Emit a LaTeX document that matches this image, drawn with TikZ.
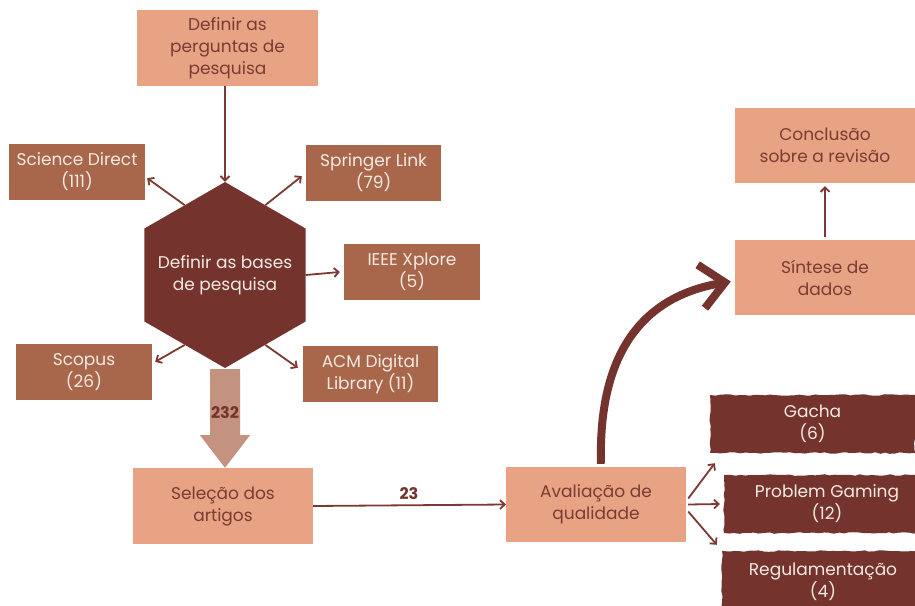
\documentclass[tikz,border=0pt]{standalone}
\usepackage{fontspec}
\setmainfont{Poppins}
\usetikzlibrary{arrows.meta,shapes.geometric,decorations.pathmorphing,calc}
\definecolor{salmon}{HTML}{E8A385}
\definecolor{midbrown}{HTML}{A8674B}
\definecolor{darkbrown}{HTML}{74342D}
\definecolor{txtdark}{HTML}{7A3B33}
\definecolor{txtlight}{HTML}{F5EAE3}
\definecolor{fatarrow}{HTML}{C4937F}
\definecolor{linecol}{HTML}{7B3A31}
\begin{document}
\begin{tikzpicture}[x=1pt,y=-1pt,
  fsz/.style={font=\fontsize{17}{22}\selectfont},
  lbox/.style={fill=salmon, text=txtdark, align=center, inner sep=0pt, fsz, minimum width=180pt, minimum height=76pt},
  mbox/.style={fill=midbrown, text=txtlight, align=center, inner sep=0pt, fsz, minimum width=136pt, minimum height=56pt},
  rbox/.style={fill=darkbrown, text=txtlight, align=center, inner sep=0pt, fsz, decorate, decoration={random steps, segment length=5pt, amplitude=0.8pt}},
  hexa/.style={regular polygon, regular polygon sides=6, shape border rotate=30, fill=darkbrown, inner sep=0pt, minimum size=186pt},
  hextext/.style={text=txtlight, align=center, inner sep=0pt, fsz},
  arr/.style={draw=linecol, line width=1.8pt, -{Straight Barb[length=4.5pt,width=9pt]}},
  bigarr/.style={draw=darkbrown, line width=8pt, -{Straight Barb[length=24pt,width=44pt]}},
  lbl/.style={text=darkbrown, font=\fontsize{16}{18}\selectfont\bfseries, inner sep=0pt}
]
\useasboundingbox[fill=white] (0,0) rectangle (915,605);
\pgfmathsetseed{7}

\node[lbox, minimum width=181pt] (top) at (227.5,48) {Definir as\\perguntas de\\pesquisa};
\node[hexa] (hex) at (225,275) {};
\node[hextext] (hext) at (hex.center) {Definir as bases\\de pesquisa};

\node[mbox] (sd) at (77,172) {Science Direct\\(111)};
\node[mbox, minimum width=135pt] (sl) at (373.5,173) {Springer Link\\(79)};
\node[mbox] (ieee) at (412,272) {IEEE Xplore\\(5)};
\node[mbox] (scopus) at (84,372) {Scopus\\(26)};
\node[mbox, minimum width=135pt] (acm) at (370.5,374) {ACM Digital\\Library (11)};

\node[lbox] (sel) at (223,506) {Seleção dos\\artigos};
\node[lbox, minimum height=75pt] (av) at (596,504.5) {Avaliação de\\qualidade};
\node[lbox, minimum height=75pt] (sint) at (825,277.5) {Síntese de\\dados};
\node[lbox, minimum height=75pt] (conc) at (825,145.5) {Conclusão\\sobre a revisão};

\node[rbox, minimum width=205pt, minimum height=58pt] (gacha) at (812.5,424) {Gacha\\(6)};
\node[rbox, minimum width=206pt, minimum height=58pt] (pg) at (827,504) {Problem Gaming\\(12)};
\node[rbox, minimum width=202pt, minimum height=62pt] (reg) at (823,582) {Regulamentação\\(4)};

% connectors
\draw[arr] (top.south -| hex.center) -- (hex.90);
\draw[arr] (hex.120) -- ($(sd.south east)+(2,-22)$);
\draw[arr] (hex.60) -- ($(sl.south west)+(-4,-25)$);
\draw[arr] (hex.0) -- ($(ieee.west)+(-4,0)$);
\draw[arr] (hex.240) -- ($(scopus.north east)+(3,18)$);
\draw[arr] (hex.300) -- ($(acm.north west)+(-5,22)$);

% fat arrow
\fill[fatarrow] ($(hex.270)+(-15,1)$) -- ($(hex.270)+(15,1)$) -- ($(hex.270)+(15,67)$)
  -- ($(hex.270)+(25,67)$) -- (sel.north -| hex.center) -- ($(hex.270)+(-25,67)$)
  -- ($(hex.270)+(-15,67)$) -- cycle;
\node[lbl] (n232) at (225,413) {232};

\draw[arr] (sel.east) -- (av.west);
\node[lbl] (n23) at (409,494) {23};

\draw[bigarr] ($(av.north)+(5,-3)$) .. controls (598,350) and (645,296) .. ($(sint.west)+(-4,4)$);
\draw[arr] ($(sint.north)+(0,-3)$) -- ($(conc.south)+(0,3)$);

\draw[arr] ($(av.east)+(2,-6)$) -- ($(gacha.south west)+(5,10)$);
\draw[arr] ($(av.east)+(2,0)$) -- ($(pg.west)+(-4,0)$);
\draw[arr] ($(av.east)+(2,7)$) -- ($(reg.north west)+(-5,-6)$);
\end{tikzpicture}
\end{document}
